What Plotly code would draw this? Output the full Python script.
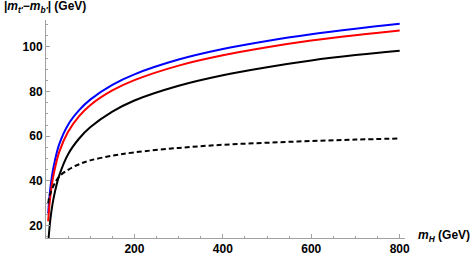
import plotly.graph_objects as go

mH = [5, 7, 10, 15, 20, 30, 50, 75, 100, 150, 200, 300, 400, 500, 600, 700, 800]
blue_vals = [25.5, 31, 37, 44, 49, 56.5, 65.2, 71.7, 76.4, 83, 87.7, 94.3, 99, 102.6, 105.6, 108.1, 110.3]
red_vals = [22, 27.5, 33.5, 40.5, 45.5, 53, 62, 69, 73.9, 80.5, 85.1, 91.6, 96.2, 99.8, 102.8, 105.2, 107.3]
black_vals = [12, 17, 23, 30, 35, 42.5, 52, 59, 64, 71, 76, 82.6, 87.3, 90.9, 93.9, 96.3, 98.3]
dashed_vals = [30, 32.5, 34.5, 37, 39, 42, 45, 47.5, 49.2, 51.3, 52.8, 54.8, 56.2, 57.1, 57.9, 58.5, 59]

y_ticks = [20, 40, 60, 80, 100]
x_ticks = [200, 400, 600, 800]

fig = go.Figure()
series = [
    (blue_vals, "#0000ff", "solid"),
    (red_vals, "#ff0000", "solid"),
    (black_vals, "#000000", "solid"),
    (dashed_vals, "#000000", "5px,3px"),
]
for vals, col, dash in series:
    fig.add_trace(go.Scatter(x=mH, y=vals, mode="lines",
                             line=dict(color=col, width=2, dash=dash, shape="spline"),
                             showlegend=False))

axis_col = "#a0a0a0"
tfont = dict(family="Liberation Sans", size=12, color="black", weight="bold")
fig.update_xaxes(range=[0, 812], showgrid=False, zeroline=False, automargin=False,
                 showline=True, linecolor=axis_col, linewidth=1,
                 ticks="inside", ticklen=4, tickcolor=axis_col,
                 tickvals=x_ticks, ticktext=[str(v) for v in x_ticks],
                 tickfont=tfont,
                 minor=dict(ticks="inside", dtick=50, tick0=0, ticklen=2, tickcolor=axis_col))
fig.update_yaxes(range=[14.5, 112], showgrid=False, zeroline=False, automargin=False,
                 showline=True, linecolor=axis_col, linewidth=1,
                 ticks="inside", ticklen=4, tickcolor=axis_col,
                 tickvals=y_ticks, ticktext=[str(v) for v in y_ticks],
                 tickfont=tfont,
                 minor=dict(ticks="inside", dtick=5, tick0=0, ticklen=2, tickcolor=axis_col))

fig.add_annotation(xref="paper", yref="paper", x=-0.123, y=1.06, xanchor="left", yanchor="middle",
                   text="<b>|<i>m</i><sub><i>t′</i></sub>−<i>m</i><sub><i>b′</i></sub>| (GeV)</b>",
                   showarrow=False, font=dict(family="Liberation Sans", size=12, color="black"))
fig.add_annotation(xref="paper", yref="paper", x=1.031, y=0.01, xanchor="left", yanchor="middle",
                   text="<b><i>m</i><sub><i>H</i></sub> (GeV)</b>",
                   showarrow=False, font=dict(family="Liberation Sans", size=12, color="black"))

fig.update_layout(width=472, height=256, margin=dict(l=46, r=67, t=20, b=18),
                  plot_bgcolor="white", paper_bgcolor="white")
fig.write_html("out.html", config={"displayModeBar": False})

with open("out.html", "r", encoding="utf-8") as f:
    html = f.read()
html = html.replace("<head>", "<head><style>html,body{margin:0;padding:0;overflow:hidden}</style>", 1)
with open("out.html", "w", encoding="utf-8") as f:
    f.write(html)
